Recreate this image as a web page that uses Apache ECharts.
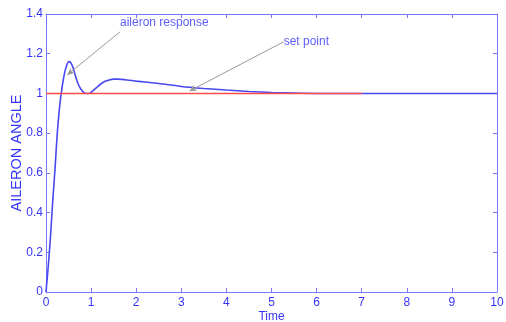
<!DOCTYPE html>
<html><head><meta charset="utf-8">
<script src="https://cdn.jsdelivr.net/npm/echarts@6/dist/echarts.min.js"></script>
<style>html,body{margin:0;padding:0;background:#fff}#c{width:506px;height:322px}</style>
</head><body><div id="c"></div>
<script>
var timeVals = [0,0.05,0.1,0.15,0.2,0.25,0.3,0.35,0.4,0.45,0.5,0.55,0.6,0.65,0.7,0.75,0.8,0.85,0.9,0.95,1.0,1.1,1.2,1.3,1.4,1.5,1.6,1.8,2.0,2.5,3.0,3.5,4.0,4.5,5.0,5.5,6,7,8,9,10];
var responseVals = [0,0.13,0.28,0.46,0.62,0.8,0.93,1.02,1.09,1.135,1.16,1.155,1.13,1.09,1.055,1.03,1.013,1.003,1.0,1.0,1.005,1.025,1.045,1.06,1.068,1.072,1.072,1.068,1.062,1.05,1.035,1.025,1.017,1.01,1.005,1.002,1.0,1.0,1.0,1.0,1.0];
var setTime = [0,7];
var setVals = [1,1];
var annTexts = ['aileron response','set point'];
var annFrom = [[1.64,1.31],[5.27,1.26]];
var annTo = [[0.47,1.093],[3.18,1.012]];
var annTextPos = [[1.64,1.355],[5.27,1.26]];

var axisCol = '#7878ff', txtCol = '#3434f8';
var font = 'Liberation Sans, Arial, sans-serif';
var chart = echarts.init(document.getElementById('c'), null, {renderer:'canvas'});
function xAx(pos, show) {
  return {type:'value', position:pos, min:0, max:10, interval:1,
    axisLine:{show:true, onZero:false, lineStyle:{color:axisCol, width:1}},
    axisTick:{show:true, inside:true, length:4, lineStyle:{color:axisCol}},
    axisLabel:{show:show, color:txtCol, fontSize:12, fontFamily:font, margin:5},
    splitLine:{show:false}};
}
function yAx(pos, show) {
  return {type:'value', position:pos, min:0, max:1.4, interval:0.2,
    axisLine:{show:true, onZero:false, lineStyle:{color:axisCol, width:1}},
    axisTick:{show:true, inside:true, length:4, lineStyle:{color:axisCol}},
    axisLabel:{show:show, color:txtCol, fontSize:12, fontFamily:font, margin:3},
    splitLine:{show:false}};
}
var xa = xAx('bottom', true);
xa.name = 'Time'; xa.nameLocation = 'middle'; xa.nameGap = 19; xa.nameMoveOverlap = false;
xa.nameTextStyle = {color:txtCol, fontSize:12, fontFamily:font};
var ya = yAx('left', true);
ya.name = 'AILERON ANGLE'; ya.nameLocation = 'middle'; ya.nameGap = 22; ya.nameMoveOverlap = false;
ya.nameTextStyle = {color:txtCol, fontSize:14.5, fontFamily:font};
var xa2 = xAx('top', false), ya2 = yAx('right', false);

var annLines = annFrom.map(function(f,i){ return [{coord:f},{coord:annTo[i]}]; });
var annPts = annTextPos.map(function(p,i){ return {value:p, label:{formatter:annTexts[i]}}; });

chart.setOption({
  animation:false,
  grid:{left:46, right:9, top:14, bottom:30, containLabel:false, outerBoundsMode:'none'},
  xAxis:[xa, xa2],
  yAxis:[ya, ya2],
  series:[
    {type:'line', data:timeVals.map(function(t,i){return [t,responseVals[i]];}), smooth:0.2, showSymbol:false,
     lineStyle:{color:'#4848f0', width:1.6}, z:2,
     markLine:{silent:true, symbol:['none','arrow'], symbolSize:[5,7],
       lineStyle:{color:'#999999', width:1, type:'solid'}, label:{show:false}, data:annLines}},
    {type:'scatter', data:annPts, symbolSize:0, z:4,
     label:{show:true, position:'right', distance:0, color:txtCol, fontSize:12, fontFamily:font}},
    {type:'line', data:setTime.map(function(t,i){return [t,setVals[i]];}), showSymbol:false,
     itemStyle:{color:'#ff4d4d'}, lineStyle:{color:'#ff4d4d', width:1.6}, z:5}
  ]
});
</script></body></html>
